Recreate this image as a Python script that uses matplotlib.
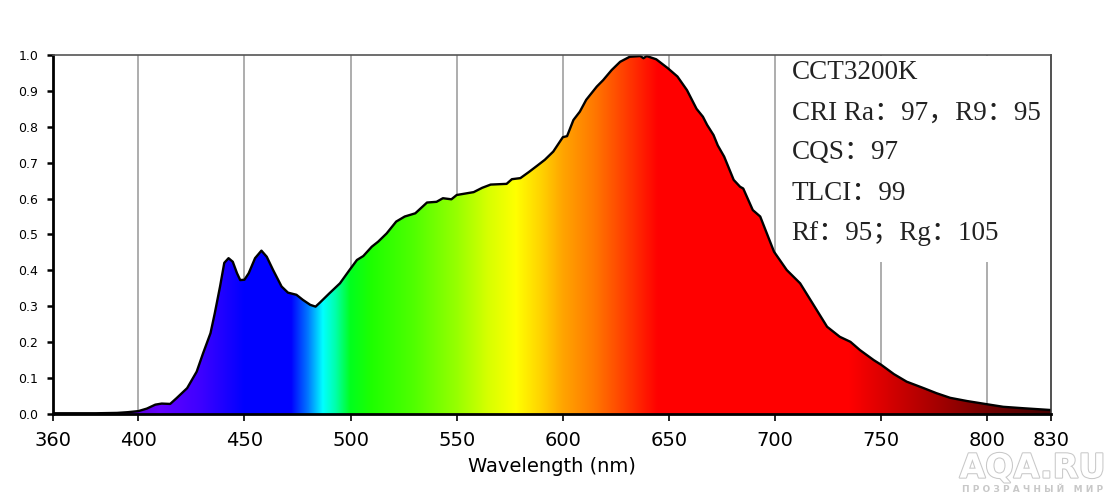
import numpy as np
import matplotlib
matplotlib.use('Agg')
import matplotlib.pyplot as plt
from matplotlib.patches import Polygon, Rectangle
import matplotlib.patheffects as pe

# Spectrum (wavelength nm, relative intensity)
wavelength = [360, 370, 380, 390, 395, 400, 404, 408, 411, 415, 418, 423, 427.5, 430.5,
              434, 436, 438.5, 440.5, 442.5, 444.5, 446.5, 448, 450, 452, 455, 458, 460.5,
              463.5, 467.5, 470.5, 474.5, 477.5, 481, 483.5, 485.5, 490, 495, 499.5, 503,
              506, 510, 513, 517, 521.5, 525.5, 530.5, 536, 540.5, 543.5, 547.5, 550, 558,
              562, 566, 573.5, 576, 580, 584, 588, 591.5, 595.5, 600, 602, 605, 608, 611,
              616, 619, 623, 627, 631.5, 636.5, 638, 639.5, 644, 649.5, 654, 658.5, 663,
              666, 668, 671, 673, 676, 680.5, 683.5, 685, 689.5, 693, 699.5, 705.5, 711.8,
              718, 724.5, 730.5, 735.5, 740, 746.5, 750, 756, 762, 770, 776, 782.5, 790.5,
              800, 807.5, 817, 830]
intensity = [0.002, 0.002, 0.002, 0.003, 0.005, 0.008, 0.015, 0.026, 0.029, 0.028, 0.044,
             0.072, 0.118, 0.169, 0.225, 0.280, 0.355, 0.421, 0.434, 0.424, 0.392, 0.373,
             0.374, 0.392, 0.434, 0.455, 0.438, 0.401, 0.355, 0.338, 0.332, 0.318, 0.304,
             0.299, 0.310, 0.336, 0.364, 0.401, 0.429, 0.440, 0.466, 0.480, 0.503, 0.536,
             0.550, 0.559, 0.589, 0.591, 0.601, 0.598, 0.610, 0.618, 0.630, 0.639, 0.641,
             0.654, 0.657, 0.674, 0.692, 0.708, 0.731, 0.771, 0.774, 0.819, 0.842, 0.875,
             0.912, 0.930, 0.958, 0.981, 0.995, 0.997, 0.991, 0.997, 0.988, 0.963, 0.940,
             0.902, 0.850, 0.828, 0.805, 0.777, 0.748, 0.717, 0.652, 0.633, 0.628, 0.568,
             0.550, 0.452, 0.401, 0.364, 0.305, 0.243, 0.215, 0.201, 0.178, 0.150, 0.137,
             0.111, 0.090, 0.072, 0.058, 0.045, 0.036, 0.027, 0.020, 0.016, 0.011]

# colour stops of the spectral fill
stop_nm = [360, 390, 410, 430, 445, 450, 472, 480, 487, 493, 500, 510, 530, 550, 565,
           578, 590, 600, 615, 630, 645, 735, 760, 800, 830]
stop_rgb = [(40, 0, 90), (80, 0, 180), (100, 0, 255), (60, 0, 255), (15, 0, 255),
            (0, 0, 255), (0, 0, 255), (0, 120, 255), (0, 255, 255), (0, 255, 170),
            (0, 255, 30), (30, 255, 0), (80, 255, 0), (150, 255, 0), (215, 255, 0),
            (255, 255, 0), (255, 210, 0), (255, 165, 0), (255, 120, 0), (255, 60, 0),
            (255, 0, 0), (255, 0, 0), (200, 0, 0), (115, 0, 0), (70, 0, 0)]

x_ticks = [360, 400, 450, 500, 550, 600, 650, 700, 750, 800, 830]
grid_nm = [400, 450, 500, 550, 600, 650, 700, 750, 800]
y_ticks = [0.0, 0.1, 0.2, 0.3, 0.4, 0.5, 0.6, 0.7, 0.8, 0.9, 1.0]

info_lines = ['CCT3200K', 'CRI Ra：97，R9：95', 'CQS：97', 'TLCI：99', 'Rf：95；Rg：105']

fig = plt.figure(figsize=(11.2, 4.98), dpi=100)
ax = fig.add_axes([0.0477, 0.1687, 0.8907, 0.7209])
ax.set_xlim(360, 830)
ax.set_ylim(0, 1.0)

# grid lines
ax.vlines(grid_nm, 0, 1, colors='#a0a0a0', linewidth=1.2, zorder=0.5)

# white box behind the text block
ax.add_patch(Rectangle((0.728, 0.424), 0.27, 0.574, transform=ax.transAxes,
                       facecolor='white', edgecolor='none', zorder=1))

# gradient image clipped to the spectrum
grid = np.linspace(360, 830, 941)
rgb = np.array(stop_rgb) / 255.0
grad = np.stack([np.interp(grid, stop_nm, rgb[:, c]) for c in range(3)], axis=-1)[None, :, :]
img = ax.imshow(grad, extent=[360, 830, 0, 1], aspect='auto', origin='lower',
                interpolation='bilinear', zorder=2)
wl = np.array(wavelength)
it = np.array(intensity)
verts = np.column_stack([np.r_[wl, wl[::-1]], np.r_[it, np.zeros_like(it)]])
poly = Polygon(verts, closed=True, facecolor='none', edgecolor='none')
ax.add_patch(poly)
img.set_clip_path(poly)
ax.plot(wl, it, color='black', linewidth=1.7, zorder=3)

# info text
for i, line in enumerate(info_lines):
    ax.text(0.740, 0.950 - i * 0.1115, line, transform=ax.transAxes, va='center',
            ha='left', fontsize=19.5, color='#222222',
            family=['Liberation Serif', 'Noto Sans CJK SC'], zorder=4)

# spines
for side in ['left', 'bottom']:
    ax.spines[side].set_linewidth(2.0)
    ax.spines[side].set_color('black')
ax.spines['top'].set_linewidth(1.2)
ax.spines['top'].set_color('#555555')
ax.spines['right'].set_linewidth(1.2)
ax.spines['right'].set_color('#333333')
for s in ax.spines.values():
    s.set_zorder(5)

ax.set_xticks(x_ticks)
ax.set_xticklabels([str(v) for v in x_ticks], fontsize=14)
ax.set_yticks(y_ticks)
ax.set_yticklabels(['%.1f' % v for v in y_ticks], fontsize=9)
ax.tick_params(axis='x', direction='out', length=5, width=1.2, pad=7)
ax.tick_params(axis='y', direction='out', length=4, width=1.8, pad=7)
ax.set_xlabel('Wavelength (nm)', fontsize=14, labelpad=5)

# watermark
fig.text(0.922, 0.060, 'AQA.RU', fontsize=24, color='white', ha='center', va='center',
         fontweight='bold',
         path_effects=[pe.withStroke(linewidth=1.5, foreground='#c8c8c8')])
fig.text(0.922, 0.018, 'П Р О З Р А Ч Н Ы Й   М И Р', fontsize=6.5, color='#c8c8c8',
         ha='center', va='center', fontweight='bold')

fig.savefig('out.png', dpi=100)
